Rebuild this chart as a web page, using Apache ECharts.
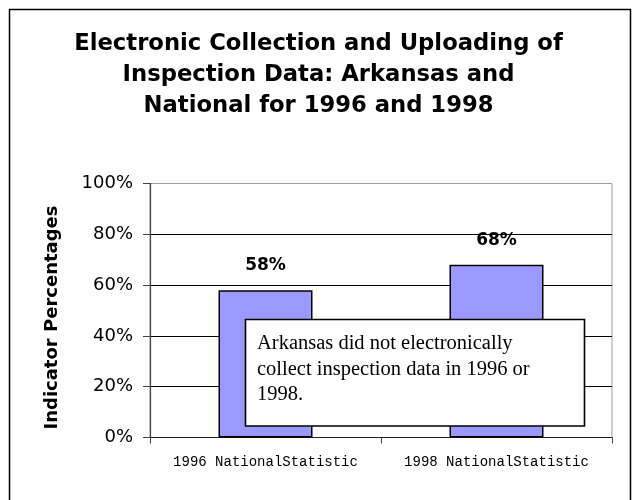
<!DOCTYPE html>
<html>
<head>
<meta charset="utf-8">
<script src="https://cdn.jsdelivr.net/npm/echarts@6/dist/echarts.min.js"></script>
<style>
  html, body { margin: 0; padding: 0; background: #fff; }
  #chart { width: 637px; height: 500px; }
</style>
</head>
<body>
<div id="chart"></div>
<script>
const titleLines = ['Electronic Collection and Uploading of', 'Inspection Data: Arkansas and', 'National for 1996 and 1998'];
const categories = ['1996 NationalStatistic', '1998 NationalStatistic'];
const nationalValues = [58, 68];
const yAxisName = 'Indicator Percentages';
const noteLines = ['Arkansas did not electronically', 'collect inspection data in 1996 or', '1998.'];

const chart = echarts.init(document.getElementById('chart'), null, { renderer: 'canvas' });
chart.setOption({
  backgroundColor: '#fff',
  animation: false,
  title: {
    text: titleLines.join('\n'),
    left: 'center',
    top: 29,
    padding: 0,
    textStyle: { fontFamily: 'DejaVu Sans', fontWeight: 'bold', fontSize: 22.7, lineHeight: 30.7, color: '#000' }
  },
  grid: {
    left: 150, top: 183.5, width: 462, height: 254,
    show: true, borderColor: '#a0a0a0', borderWidth: 1, backgroundColor: 'transparent'
  },
  xAxis: {
    type: 'category',
    data: categories,
    axisLine: { show: true, lineStyle: { color: '#222', width: 1 } },
    axisTick: { show: true, length: 6, alignWithLabel: false, interval: 0, lineStyle: { color: '#444' } },
    axisLabel: { margin: 18, fontFamily: 'Liberation Mono', fontSize: 14, color: '#000', interval: 0 },
    splitLine: { show: false }
  },
  yAxis: {
    type: 'value',
    min: 0, max: 100, interval: 20,
    name: yAxisName,
    nameLocation: 'middle',
    nameRotate: 90,
    nameGap: 89,
    nameTextStyle: { fontFamily: 'DejaVu Sans', fontWeight: 'bold', fontSize: 18, color: '#000', padding: [0, 14, 0, 0] },
    axisLine: { show: true, lineStyle: { color: '#444', width: 1.2 } },
    axisTick: { show: true, length: 7, lineStyle: { color: '#444' } },
    axisLabel: { margin: 17, formatter: '{value}%', fontFamily: 'DejaVu Sans', fontSize: 18, color: '#000' },
    splitLine: { show: true, lineStyle: { color: ['#000', '#000', '#000', '#000', '#000', '#a0a0a0'], width: 1 } }
  },
  series: [{
    type: 'bar',
    data: nationalValues,
    barWidth: 94,
    itemStyle: { color: '#9999FF', borderColor: '#000', borderWidth: 1.5 },
    label: {
      show: true, position: 'top', distance: 16, formatter: '{c}%',
      fontFamily: 'DejaVu Sans', fontWeight: 'bold', fontSize: 17, color: '#000'
    },
    z: 3
  }],
  graphic: [
    {
      type: 'rect', z: 50, silent: true,
      shape: { x: 9.5, y: 9.5, width: 621, height: 520 },
      style: { fill: 'none', stroke: '#000', lineWidth: 1.5 }
    },
    {
      type: 'group', z: 100,
      children: [
        {
          type: 'rect', z: 100,
          shape: { x: 245.5, y: 319.5, width: 339, height: 106.5 },
          style: { fill: '#fff', stroke: '#000', lineWidth: 1.6 }
        },
        {
          type: 'text', z: 101,
          x: 257, y: 331,
          style: {
            text: noteLines.join('\n'),
            font: '20.5px "Liberation Serif"',
            lineHeight: 25.5,
            fill: '#000',
            verticalAlign: 'top',
            align: 'left'
          }
        }
      ]
    }
  ]
});
</script>
</body>
</html>
